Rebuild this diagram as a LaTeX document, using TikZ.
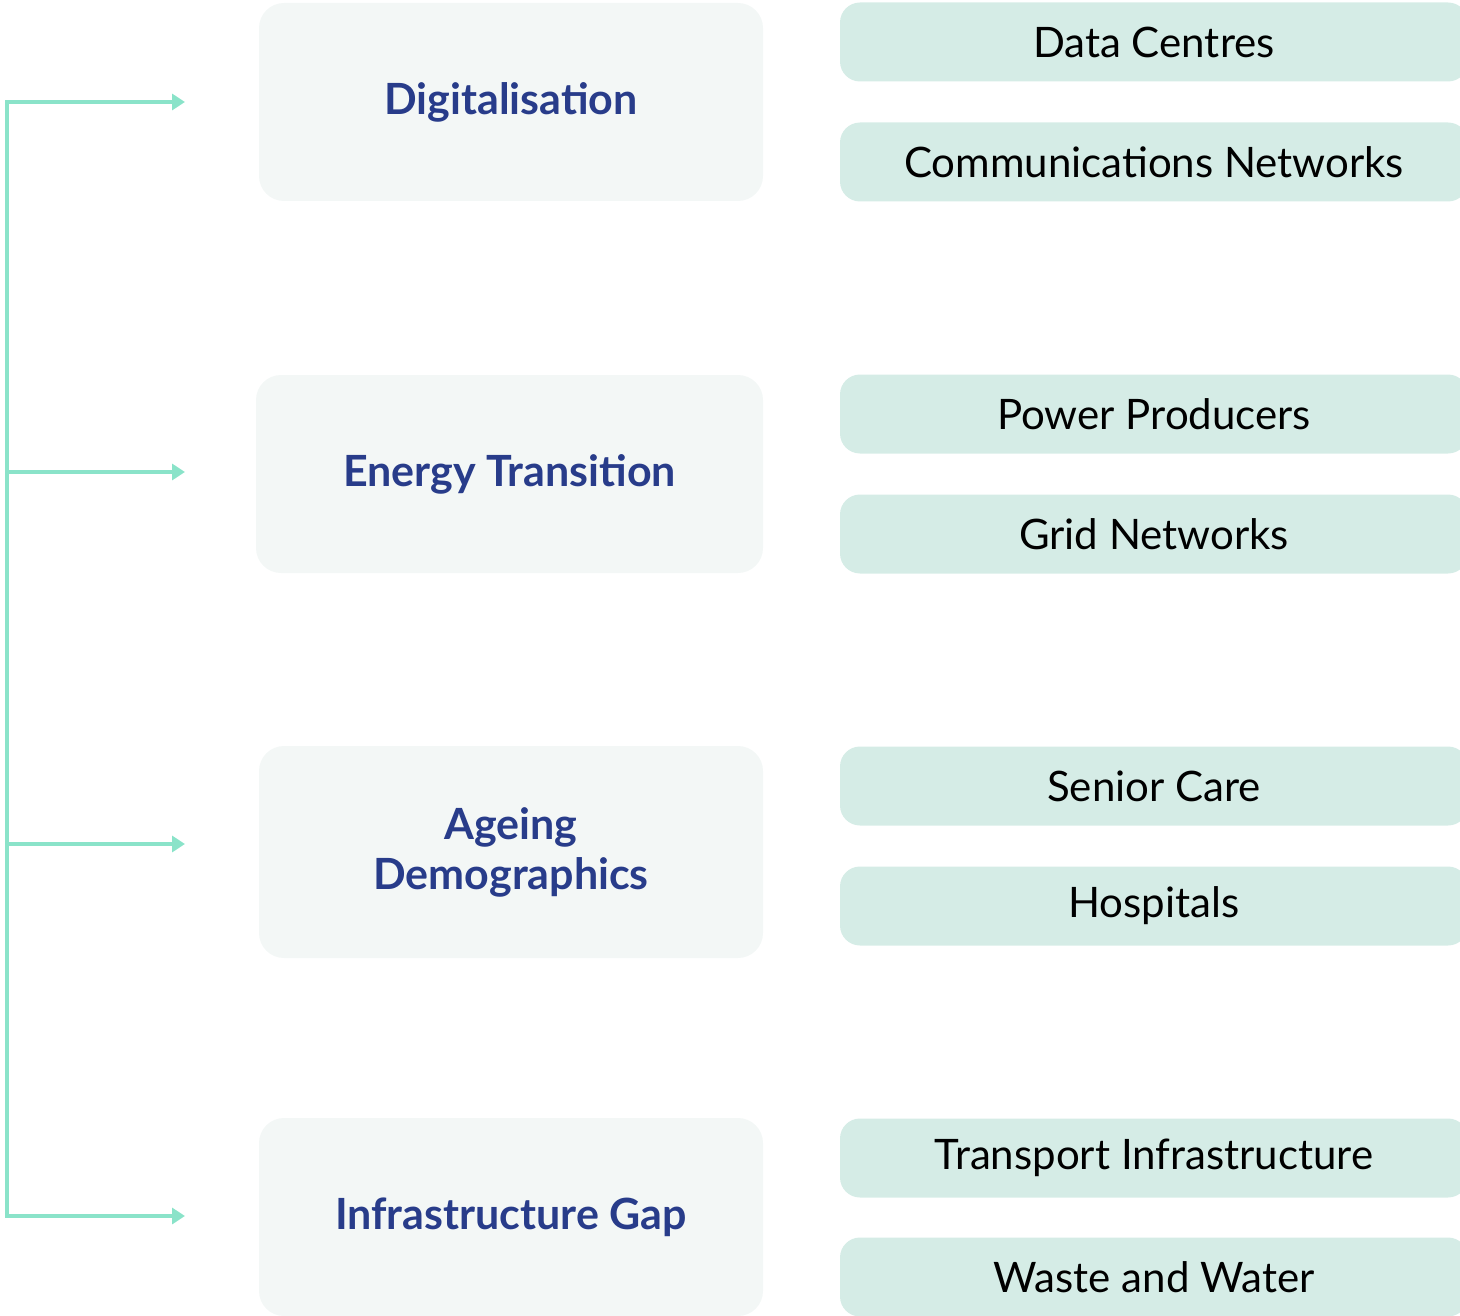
\documentclass[tikz,border=0pt]{standalone}
\usepackage{fontspec}
\setmainfont{Lato}
\usetikzlibrary{arrows.meta, positioning}
\definecolor{trunkgreen}{HTML}{8AE3C9}
\definecolor{driverfill}{HTML}{F3F7F6}
\definecolor{sectorfill}{HTML}{D5ECE6}
\definecolor{drivertext}{HTML}{283C8A}

\begin{document}
\begin{tikzpicture}[x=1pt, y=-1pt,
    driver/.style={fill=driverfill, rounded corners=25pt, minimum width=504pt,
        minimum height=198pt, text=drivertext, align=center,
        font=\fontsize{43}{50}\selectfont\bfseries},
    sector/.style={fill=sectorfill, rounded corners=20pt, minimum width=628pt,
        minimum height=79pt, font=\fontsize{42}{48}\selectfont},
    link/.style={trunkgreen, line width=4pt, -{Triangle[length=13pt, width=16pt]}}]
    \useasboundingbox (0,0) rectangle (1460,1316);

    % Draw the driver boxes
    \node[driver] (digital) at (511,102) {Digitalisation};
    \node[driver, minimum width=507pt] (energy) at (509.5,474) {Energy Transition};
    \node[driver, minimum height=212pt] (ageing) at (511,852) {Ageing\\Demographics};
    \node[driver] (infra) at (511,1217) {Infrastructure Gap};

    % Draw the sector boxes
    \node[sector] (datac) at (1154,42) {Data Centres};
    \node[sector] (comms) at (1154,162) {Communications Networks};
    \node[sector] (power) at (1154,414) {Power Producers};
    \node[sector] (grid) at (1154,534) {Grid Networks};
    \node[sector] (senior) at (1154,786) {Senior Care};
    \node[sector] (hosp) at (1154,906) {Hospitals};
    \node[sector] (transp) at (1154,1158) {Transport Infrastructure};
    \node[sector] (waste) at (1154,1277) {Waste and Water};

    % Draw the trunk and its arrows
    \coordinate (t1) at (7,102);
    \coordinate (t2) at (7,472);
    \coordinate (t3) at (7,844);
    \coordinate (t4) at (7,1216);
    \coordinate (a1) at (185,102);
    \coordinate (a2) at (185,472);
    \coordinate (a3) at (185,844);
    \coordinate (a4) at (185,1216);
    \draw[link, {Triangle[length=13pt, width=16pt]}-{Triangle[length=13pt, width=16pt]}]
        (a1) -- (t1) -- (t4) -- (a4);
    \draw[link] (t2) -- (a2);
    \draw[link] (t3) -- (a3);
\end{tikzpicture}
\end{document}
